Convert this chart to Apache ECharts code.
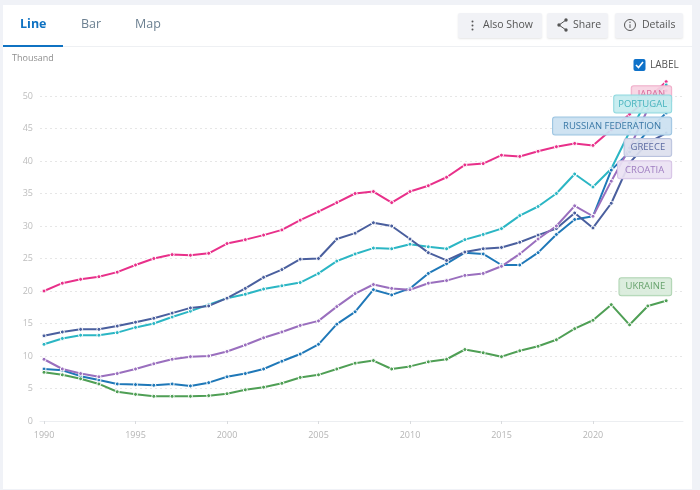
<!DOCTYPE html>
<html>
<head>
<meta charset="utf-8">
<style>html,body{margin:0;padding:0;background:#f0f2f7}#c{width:700px;height:490px}</style>
<script src="https://cdn.jsdelivr.net/npm/echarts@6/dist/echarts.min.js"></script>
</head>
<body>
<div id="c"></div>
<script>
const years = [1990,1991,1992,1993,1994,1995,1996,1997,1998,1999,2000,2001,2002,2003,2004,2005,2006,2007,2008,2009,2010,2011,2012,2013,2014,2015,2016,2017,2018,2019,2020,2021,2022,2023,2024];
const xTicks = [1990,1995,2000,2005,2010,2015,2020];
const japan = [20,21.2,21.8,22.2,22.9,24,25,25.6,25.5,25.8,27.3,27.9,28.6,29.4,30.9,32.2,33.6,35,35.3,33.6,35.3,36.2,37.5,39.4,39.6,40.9,40.7,41.5,42.2,42.7,42.4,44.8,47.2,49.6,52.2];
const portugal = [11.8,12.7,13.2,13.2,13.6,14.4,15,16,16.9,17.9,18.9,19.5,20.3,20.8,21.3,22.7,24.6,25.7,26.6,26.5,27.2,26.8,26.5,27.9,28.7,29.6,31.6,33,35,38,36,38.8,44.5,49.5,51.7];
const russia = [8,7.8,6.9,6.3,5.7,5.6,5.5,5.7,5.4,5.9,6.8,7.3,8,9.2,10.3,11.8,14.9,16.8,20.2,19.4,20.4,22.7,24.2,25.9,25.7,24,24,25.9,28.7,31,31.5,38.6,41.4,44.6,47.4];
const greece = [13.1,13.7,14.1,14.1,14.6,15.2,15.8,16.6,17.4,17.7,18.9,20.4,22.1,23.3,24.9,25,28,28.9,30.5,30,28,25.9,24.7,26,26.5,26.7,27.5,28.6,29.6,32,29.7,33.5,39.7,42.8,44.3];
const croatia = [9.5,8,7.3,6.8,7.3,8,8.8,9.5,9.9,10,10.7,11.7,12.8,13.7,14.7,15.4,17.6,19.6,21,20.4,20.2,21.2,21.6,22.4,22.7,23.8,25.7,28,30,33.1,31.5,36.9,42,48,50.8];
const ukraine = [7.5,7.1,6.5,5.7,4.5,4.1,3.8,3.8,3.8,3.9,4.2,4.8,5.2,5.8,6.7,7.1,8,8.9,9.3,8,8.4,9.1,9.5,11,10.5,9.9,10.8,11.5,12.5,14.2,15.5,17.9,14.8,17.7,18.5];

const UI_FONT = '"Open Sans", "Noto Sans", sans-serif';

function line(name, values, color, textColor, fill, border, dy, padX) {
  return {
    name, type: 'line', clip: false,
    data: values.map((v, i) => [years[i], v]),
    symbol: 'circle', symbolSize: 4, showAllSymbol: true,
    lineStyle: { color, width: 2 },
    itemStyle: { color, borderColor: '#fff', borderWidth: 1 },
    emphasis: { disabled: true },
    endLabel: {
      show: true, formatter: name, align: 'right', verticalAlign: 'middle', distance: 5,
      offset: [0, dy], fontFamily: UI_FONT, fontSize: 9.5, color: textColor,
      backgroundColor: fill, borderColor: border, borderWidth: 1, borderRadius: 2,
      padding: [4, padX, 3, padX], lineHeight: 10
    }
  };
}

function caption(x, y, text, color, size, weight) {
  return { type: 'text', x, y, z: 20, style: { text, fill: color, fontFamily: UI_FONT, fontSize: size, fontWeight: weight || 'normal', verticalAlign: 'middle' } };
}
function button(x, w) {
  return { type: 'rect', z: 10, shape: { x, y: 13, width: w, height: 25, r: 2 }, style: { fill: '#f1f2f6', shadowColor: 'rgba(0,0,0,.10)', shadowBlur: 2, shadowOffsetY: 1 } };
}
function dot(cx, cy, r, fill) {
  return { type: 'circle', z: 20, shape: { cx, cy, r }, style: { fill } };
}
function stroke(points, color, width) {
  return { type: 'polyline', z: 20, shape: { points }, style: { stroke: color, lineWidth: width, fill: null } };
}

const chrome = [
  { type: 'rect', z: 0, shape: { x: 3, y: 5, width: 689, height: 484 }, style: { fill: '#fff' } },
  { type: 'rect', z: 1, shape: { x: 3, y: 46, width: 689, height: 1 }, style: { fill: '#eef0f3' } },
  { type: 'rect', z: 2, shape: { x: 3, y: 45, width: 60, height: 2 }, style: { fill: '#0f72c2' } },
  caption(20, 24, 'Line', '#0f72c2', 12.5, 'bold'),
  caption(81, 24, 'Bar', '#6c8091', 12.5),
  caption(135, 24, 'Map', '#6c8091', 12.5),
  caption(12, 58.5, 'Thousand', '#8f8f8f', 9),
  button(458, 84), button(547, 61), button(615, 68),
  dot(472.5, 21.5, 1, '#555'), dot(472.5, 25.5, 1, '#555'), dot(472.5, 29.5, 1, '#555'),
  caption(483, 25.5, 'Also Show', '#555', 10.5),
  stroke([[566, 20], [559, 25], [566, 30]], '#555', 1),
  dot(566, 20, 1.7, '#555'), dot(559, 25, 1.7, '#555'), dot(566, 30, 1.7, '#555'),
  caption(573, 25.5, 'Share', '#555', 10.5),
  { type: 'circle', z: 20, shape: { cx: 630, cy: 25, r: 5.5 }, style: { fill: null, stroke: '#555', lineWidth: 1 } },
  dot(630, 22.3, 0.7, '#555'),
  stroke([[630, 24.3], [630, 28]], '#555', 1),
  caption(642, 25.5, 'Details', '#555', 10.5),
  { type: 'rect', z: 20, shape: { x: 633.5, y: 59, width: 12, height: 12, r: 2 }, style: { fill: '#0f72c9' } },
  stroke([[636, 65], [638.5, 67.5], [643, 62]], '#fff', 1.6),
  caption(650, 65, 'LABEL', '#555', 10)
];

const chart = echarts.init(document.getElementById('c'), null, { renderer: 'canvas' });
chart.setOption({
  animation: false,
  backgroundColor: 'transparent',
  graphic: { elements: chrome },
  grid: { left: 40, right: 17, top: 96, bottom: 69 },
  xAxis: {
    type: 'value', min: 1989.78, max: 2024.92,
    splitLine: { show: false },
    axisLine: { show: true, lineStyle: { color: '#eceef1' } },
    axisTick: { show: true, length: 3, customValues: xTicks, lineStyle: { color: '#d9dbde' } },
    axisLabel: { customValues: xTicks, formatter: v => String(v), color: '#b5b5b5', fontSize: 9, margin: 10, fontFamily: UI_FONT }
  },
  yAxis: {
    type: 'value', min: 0, max: 50, interval: 5,
    axisLine: { show: false }, axisTick: { show: false },
    axisLabel: { color: '#bdbdbd', fontSize: 9, margin: 7, fontFamily: UI_FONT },
    splitLine: { show: true, lineStyle: { color: '#e6e6e6', type: [2, 3], width: 1 } }
  },
  series: [
    line('JAPAN', japan, '#e8308a', '#d9699a', 'rgba(247,212,227,.92)', '#f0adc9', 13, 6),
    line('PORTUGAL', portugal, '#2bb6c4', '#47b3be', 'rgba(196,235,239,.92)', '#8fd9df', 19, 4),
    line('RUSSIAN FEDERATION', russia, '#1f78b8', '#3a78a6', 'rgba(203,225,241,.92)', '#9dc5e2', 13, 10),
    line('GREECE', greece, '#4a5f9e', '#5c6ba2', 'rgba(220,224,238,.92)', '#bac3de', 14.5, 6),
    line('CROATIA', croatia, '#9a6fbe', '#9f7ec1', 'rgba(234,226,243,.92)', '#d6c3e6', 79, 7),
    line('UKRAINE', ukraine, '#4f9f55', '#68a36d', 'rgba(217,235,219,.92)', '#aed4b1', -14, 6)
  ]
});
</script>
</body>
</html>
